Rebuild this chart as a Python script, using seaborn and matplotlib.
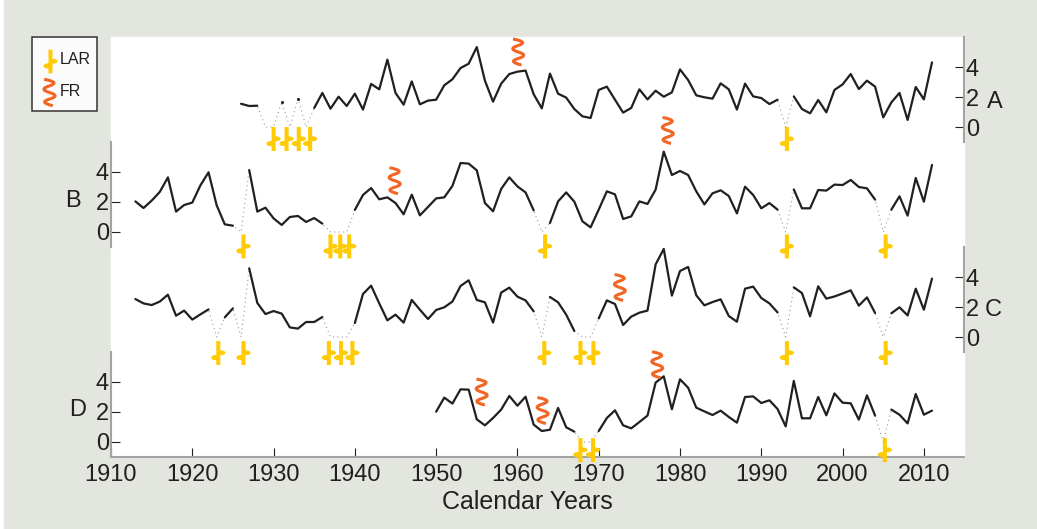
import numpy as np
import pandas as pd
import matplotlib
matplotlib.use("Agg")
import matplotlib.pyplot as plt
import seaborn as sns
from matplotlib.lines import Line2D
from matplotlib.patches import Rectangle
from matplotlib.path import Path

# drought index per panel, 0 = missing year (drawn dotted down to zero)
years_a = list(range(1926, 2012))
values_a = [1.55, 1.4, 1.42, 0, 0, 1.67, 0, 1.9, 0, 1.27, 2.27, 1.22, 2.02, 1.4, 2.22, 1.16, 2.87, 2.51, 4.49,
            2.27, 1.49, 3.04, 1.51, 1.76, 1.82, 2.78, 3.18, 3.93, 4.22, 5.33, 3.09, 1.69, 2.89, 3.53, 3.69,
            3.76, 2.18, 1.24, 3.56, 2.22, 1.96, 1.2, 0.71, 0.6, 2.47, 2.69, 1.82, 0.96, 1.27, 2.51, 1.84,
            2.42, 2.02, 2.31, 3.84, 3.13, 2.11, 1.98, 1.89, 2.91, 2.51, 1.16, 2.89, 2.04, 1.93, 1.53, 1.82,
            0, 2.04, 1.2, 0.91, 1.8, 0.98, 2.47, 2.84, 3.53, 2.53, 3.09, 2.69, 0.64, 1.64, 2.27, 0.47, 2.67,
            1.84, 4.31]

years_b = list(range(1913, 2012))
values_b = [2.04, 1.6, 2.09, 2.67, 3.64, 1.36, 1.8, 1.96, 3.11, 3.98, 1.78, 0.51, 0.42, 0, 4.13, 1.36, 1.62,
            0.91, 0.47, 1.0, 1.07, 0.67, 0.93, 0.56, 0, 0, 0, 1.47, 2.47, 2.93, 2.18, 2.31, 1.93, 1.18, 2.49,
            1.11, 1.67, 2.24, 2.31, 3.07, 4.6, 4.56, 4.11, 1.93, 1.38, 2.87, 3.64, 3.04, 2.64, 1.44, 0, 0.6,
            2.04, 2.64, 2.02, 0.71, 0.31, 1.49, 2.71, 2.51, 0.87, 1.04, 2.04, 1.87, 2.82, 5.36, 3.8, 4.07,
            3.8, 2.71, 1.84, 2.58, 2.78, 2.4, 1.24, 3.02, 2.47, 1.58, 1.93, 1.49, 0, 2.84, 1.58, 1.58, 2.8,
            2.76, 3.16, 3.13, 3.47, 3.0, 2.91, 2.16, 0, 1.49, 2.38, 1.09, 3.6, 2.02, 4.47]

years_c = list(range(1913, 2012))
values_c = [2.53, 2.24, 2.13, 2.36, 2.82, 1.42, 1.76, 1.16, 1.51, 1.84, 0, 1.31, 1.91, 0, 4.58, 2.27, 1.53,
            1.73, 1.56, 0.64, 0.56, 1.0, 1.0, 1.33, 0, 0, 0, 0.93, 2.87, 3.42, 2.24, 1.11, 1.49, 0.96, 2.47,
            1.82, 1.2, 1.8, 1.98, 2.36, 3.4, 3.78, 2.47, 2.31, 0.96, 2.96, 3.29, 2.69, 2.44, 1.71, 0, 2.67,
            2.31, 1.49, 0.4, 0, 0, 1.24, 2.44, 2.2, 0.8, 1.36, 1.62, 1.76, 4.84, 5.87, 2.76, 4.4, 4.67, 2.78,
            2.11, 2.33, 2.51, 1.4, 1.02, 3.22, 3.36, 2.6, 2.24, 1.64, 0, 3.31, 2.93, 1.38, 3.38, 2.56, 2.7,
            2.9, 3.11, 2.09, 2.64, 1.6, 0, 1.58, 1.98, 1.44, 3.22, 1.82, 3.89]

years_d = list(range(1950, 2012))
values_d = [2.02, 2.96, 2.56, 3.51, 3.49, 1.51, 1.11, 1.6, 2.16, 3.07, 2.42, 3.02, 1.16, 0.73, 0.82, 2.27,
            0.98, 0.69, 0, 0, 0.73, 1.6, 2.11, 1.11, 0.91, 1.33, 1.76, 3.96, 4.38, 2.18, 4.18, 3.62, 2.29,
            2.04, 1.8, 2.09, 1.67, 1.29, 3.0, 3.04, 2.6, 2.78, 2.2, 1.04, 4.07, 1.58, 1.58, 3.0, 1.78, 3.24,
            2.62, 2.58, 1.49, 3.11, 1.76, 0, 2.16, 1.82, 1.24, 3.2, 1.82, 2.09]

# event years
lar_a = [1930, 1931.6, 1933.1, 1934.5, 1993.15]
lar_b = [1926.3, 1937, 1938.2, 1939.3, 1963.4, 1993.15, 2005.3]
lar_c = [1923.2, 1926.3, 1936.8, 1938.3, 1939.7, 1963.3, 1967.75, 1969.35, 1993.15, 2005.3]
lar_d = [1967.75, 1969.3, 2005.2]
fr_a = [1960.1]
fr_a_y = [5.0]
fr_b = [1944.9, 1978.5]
fr_b_y = [3.42, 6.77]
fr_c = [1972.6]
fr_c_y = [3.3]
fr_d = [1955.6, 1963.1, 1977.2]
fr_d_y = [3.33, 2.1, 5.15]

xticks = [1910, 1920, 1930, 1940, 1950, 1960, 1970, 1980, 1990, 2000, 2010]
yticks = [0, 2, 4]

W, H = 1037, 529
BG = "#E3E5DF"
LINE = "#231F20"
SPINE = "#A3A3A3"
LAR_COLOR = "#FFCB05"
FR_COLOR = "#F26522"

sns.set_theme(style="white")
plt.rcParams["font.family"] = ["Liberation Sans", "DejaVu Sans"]
plt.rcParams["text.color"] = LINE


def blob(cx, cy, rx, ry, n=14):
    t = np.linspace(0, 2 * np.pi, n)
    return list(zip(cx + rx * np.cos(t), cy + ry * np.sin(t)))


# LAR marker: bar with a blob each side
bar = [(-0.17, -1), (0.17, -1), (0.17, 1), (-0.17, 1), (-0.17, -1)]
lar_verts = bar + blob(0.24, 0.02, 0.36, 0.2) + blob(-0.24, -0.38, 0.36, 0.22)
lar_codes = ([Path.MOVETO] + [Path.LINETO] * 4 + ([Path.MOVETO] + [Path.LINETO] * 13) * 2)
LAR_PATH = Path(lar_verts, lar_codes)

# FR marker: squiggle
fr_verts = [(-0.4, 1), (0.85, 0.78), (0, 0.5), (-0.85, 0.25), (0, 0), (0.85, -0.25), (0, -0.5), (-0.85, -0.75),
            (0.25, -1)]
fr_codes = [Path.MOVETO] + [Path.CURVE3] * 8
FR_PATH = Path(fr_verts, fr_codes)


def make_axes(fig, top):
    ax = fig.add_axes([111 / W, 1 - (top + 105) / H, 852.7 / W, 105 / H])
    ax.patch.set_alpha(0)
    ax.set_xlim(1910, 2014.9)
    ax.set_ylim(-1, 6)
    return ax


def draw_panel(ax, years, values, lar, fr, fr_y, lar_y):
    df = pd.DataFrame({"year": years, "value": values})
    missing = df["value"] == 0
    df["segment"] = missing.cumsum()
    sns.lineplot(data=df, x="year", y="value", color="#9A9A9A", linewidth=0.8, linestyle=(0, (1, 3)), ax=ax,
                 errorbar=None)
    sns.lineplot(data=df[~missing], x="year", y="value", units="segment", estimator=None, color=LINE,
                 linewidth=1.6, ax=ax)
    sns.scatterplot(x=lar, y=[lar_y] * len(lar), marker=LAR_PATH, s=298, color=LAR_COLOR, edgecolor="none",
                    clip_on=False, zorder=5, ax=ax)
    if fr:
        sns.scatterplot(x=fr, y=fr_y, marker=FR_PATH, s=350, color=FR_COLOR, edgecolor=FR_COLOR, linewidth=2.2,
                        clip_on=False, zorder=5, ax=ax)
        ax.collections[-1].set_facecolor("none")
    ax.set_xlabel("")
    ax.set_ylabel("")


def style_panel(ax, side, bottom=False):
    for name, spine in ax.spines.items():
        spine.set_visible(name == side or (bottom and name == "bottom"))
        spine.set_color(SPINE)
        spine.set_linewidth(1.5)
    ax.set_yticks(yticks)
    ax.tick_params(axis="y", direction="in", length=6.5, width=0.8, color=LINE, labelsize=17, labelcolor=LINE,
                   pad=1.5, left=side == "left", labelleft=side == "left", right=side == "right",
                   labelright=side == "right")
    if bottom:
        ax.set_xticks(xticks)
        ax.tick_params(axis="x", direction="in", length=6.5, width=0.8, color=LINE, labelsize=17, labelcolor=LINE,
                       pad=5, bottom=True)
    else:
        ax.set_xticks([])


fig = plt.figure(figsize=(W / 100, H / 100), dpi=100, facecolor="white")
fig.patches.append(Rectangle((4 / W, 0), 1 - 4 / W, 1, transform=fig.transFigure, color=BG, zorder=-3))
fig.patches.append(Rectangle((111 / W, 1 - 457 / H), 852.7 / W, 420 / H, transform=fig.transFigure, color="white",
                             zorder=-2))

ax_a = make_axes(fig, 37)
ax_b = make_axes(fig, 142)
ax_c = make_axes(fig, 247)
ax_d = make_axes(fig, 352)

draw_panel(ax_a, years_a, values_a, lar_a, fr_a, fr_a_y, -0.8)
draw_panel(ax_b, years_b, values_b, lar_b, fr_b, fr_b_y, -0.96)
draw_panel(ax_c, years_c, values_c, lar_c, fr_c, fr_c_y, -1.07)
draw_panel(ax_d, years_d, values_d, lar_d, fr_d, fr_d_y, -0.54)

# isolated years in panel A between the dotted dips
ax_a.plot([1931, 1933], [1.67, 1.9], ls="none", marker="o", ms=1.2, color=LINE)

style_panel(ax_a, "right")
style_panel(ax_b, "left")
style_panel(ax_c, "right")
style_panel(ax_d, "left", bottom=True)
ax_d.set_xlabel("Calendar Years", fontsize=18, color=LINE)
ax_d.xaxis.set_label_coords(0.488, -0.31)

for label, x, y in [("A", 995, 102), ("B", 73, 201), ("C", 993, 310), ("D", 78, 410)]:
    fig.text(x / W, 1 - y / H, label, fontsize=17, ha="center", va="center", color=LINE)

# legend box
fig.patches.append(Rectangle((31.5 / W, 1 - 110.5 / H), 65.5 / W, 73.5 / H, transform=fig.transFigure,
                             facecolor="#FBFBFB", edgecolor="#333333", linewidth=1.1, zorder=6))
fig.add_artist(Line2D([49.7 / W], [1 - 61 / H], transform=fig.transFigure, ls="none", marker=LAR_PATH, markersize=17,
                      color=LAR_COLOR, markeredgecolor="none", zorder=7))
fig.add_artist(Line2D([49 / W], [1 - 91.5 / H], transform=fig.transFigure, ls="none", marker=FR_PATH, markersize=19,
                      markerfacecolor="none", markeredgecolor=FR_COLOR, markeredgewidth=2.2, zorder=7))
fig.text(60 / W, 1 - 60 / H, "LAR", fontsize=11.5, ha="left", va="center", color=LINE, zorder=8)
fig.text(60 / W, 1 - 91 / H, "FR", fontsize=11.5, ha="left", va="center", color=LINE, zorder=8)

fig.savefig("out.png", dpi=100, facecolor=fig.get_facecolor())
